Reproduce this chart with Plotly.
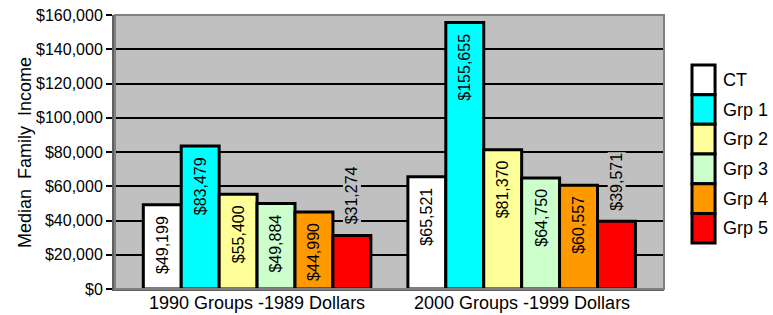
import plotly.graph_objects as go

categories = ["1990 Groups -1989 Dollars", "2000 Groups -1999 Dollars"]
series_names = ["CT", "Grp 1", "Grp 2", "Grp 3", "Grp 4", "Grp 5"]
ct = [49199, 65521]
grp1 = [83479, 155655]
grp2 = [55400, 81370]
grp3 = [49884, 64750]
grp4 = [44990, 60557]
grp5 = [31274, 39571]
series_values = [ct, grp1, grp2, grp3, grp4, grp5]
colors = ["#FFFFFF", "#00FFFF", "#FFFF99", "#CCFFCC", "#FF9900", "#FF0000"]
tick_vals = [0, 20000, 40000, 60000, 80000, 100000, 120000, 140000, 160000]
tick_text = ["$0", "$20,000", "$40,000", "$60,000", "$80,000", "$100,000",
             "$120,000", "$140,000", "$160,000"]

FONT = "Arial, Liberation Sans, sans-serif"
BARGAP = 0.14
n = len(series_names)

fig = go.Figure()
for i, (name, vals, col) in enumerate(zip(series_names, series_values, colors)):
    fig.add_trace(go.Bar(
        x=categories, y=vals, name=name,
        marker=dict(color=col, line=dict(color="black", width=3)),
        showlegend=False,
        hoverinfo="skip",
    ))

# Value labels (inside near top, or outside above the bar for Grp 5)
width = (1 - BARGAP) / n
for i, (name, vals) in enumerate(zip(series_names, series_values)):
    outside = name == "Grp 5"
    for ci, v in enumerate(vals):
        fig.add_annotation(
            x=ci + (i - (n - 1) / 2) * width, y=v, xref="x", yref="y",
            text="$" + f"{v:,}", textangle=-90, showarrow=False,
            yanchor="bottom" if outside else "top",
            yshift=10 if outside else -10,
            bgcolor="#C0C0C0" if outside else None,
            borderpad=0,
            font=dict(family=FONT, size=16, color="black"),
        )

# Category labels under the axis
for ci, cat in enumerate(categories):
    fig.add_annotation(xref="x", yref="paper", x=ci, y=0, text=cat,
                       showarrow=False, xanchor="center", yanchor="top", yshift=-3,
                       borderpad=0,
                       font=dict(family=FONT, size=18, color="black"))

# Custom legend
leg_top = 0.8175
leg_h = 0.1083
for i, (name, col) in enumerate(zip(series_names, colors)):
    y1 = leg_top - i * leg_h
    y0 = y1 - leg_h
    fig.add_shape(type="rect", xref="paper", yref="paper",
                  x0=1.051, x1=1.093, y0=y0, y1=y1,
                  fillcolor=col, line=dict(color="black", width=3))
    fig.add_annotation(xref="paper", yref="paper", x=1.104, y=(y0 + y1) / 2,
                       text=name, showarrow=False, xanchor="left", yanchor="middle",
                       font=dict(family=FONT, size=18, color="black"))

fig.update_layout(
    width=773, height=315,
    margin=dict(l=115, r=109, t=15, b=26, autoexpand=False),
    paper_bgcolor="white", plot_bgcolor="#C0C0C0",
    barmode="group", bargap=BARGAP, bargroupgap=0,
    font=dict(family=FONT, size=16, color="black"),
    showlegend=False,
)
fig.update_yaxes(
    range=[0, 160000], tickvals=tick_vals, ticktext=tick_text,
    showgrid=True, gridcolor="black", gridwidth=1.5,
    ticks="outside", ticklen=6, tickcolor="black", tickwidth=1.5,
    showline=True, linecolor="#606060", linewidth=3,
    tickfont=dict(family=FONT, size=16, color="black"),
    automargin=False,
    zeroline=False,
)
fig.update_xaxes(
    range=[-0.537, 1.538],
    showline=True, linecolor="#606060", linewidth=2, mirror=False,
    showticklabels=False, ticks="",
    automargin=False,
)
fig.add_annotation(xref="paper", yref="paper", x=-0.164, y=0.5,
                   text="Median  Family  Income", textangle=-90, showarrow=False,
                   xanchor="center", yanchor="middle",
                   font=dict(family=FONT, size=18, color="black"))
# plot border
fig.add_shape(type="rect", xref="paper", yref="paper", x0=0, x1=1, y0=0, y1=1,
              line=dict(color="#808080", width=2), fillcolor="rgba(0,0,0,0)", layer="above")

fig.write_html("out.html", config={"displayModeBar": False},
               post_script="document.body.style.margin='0';document.body.style.overflow='hidden';")
